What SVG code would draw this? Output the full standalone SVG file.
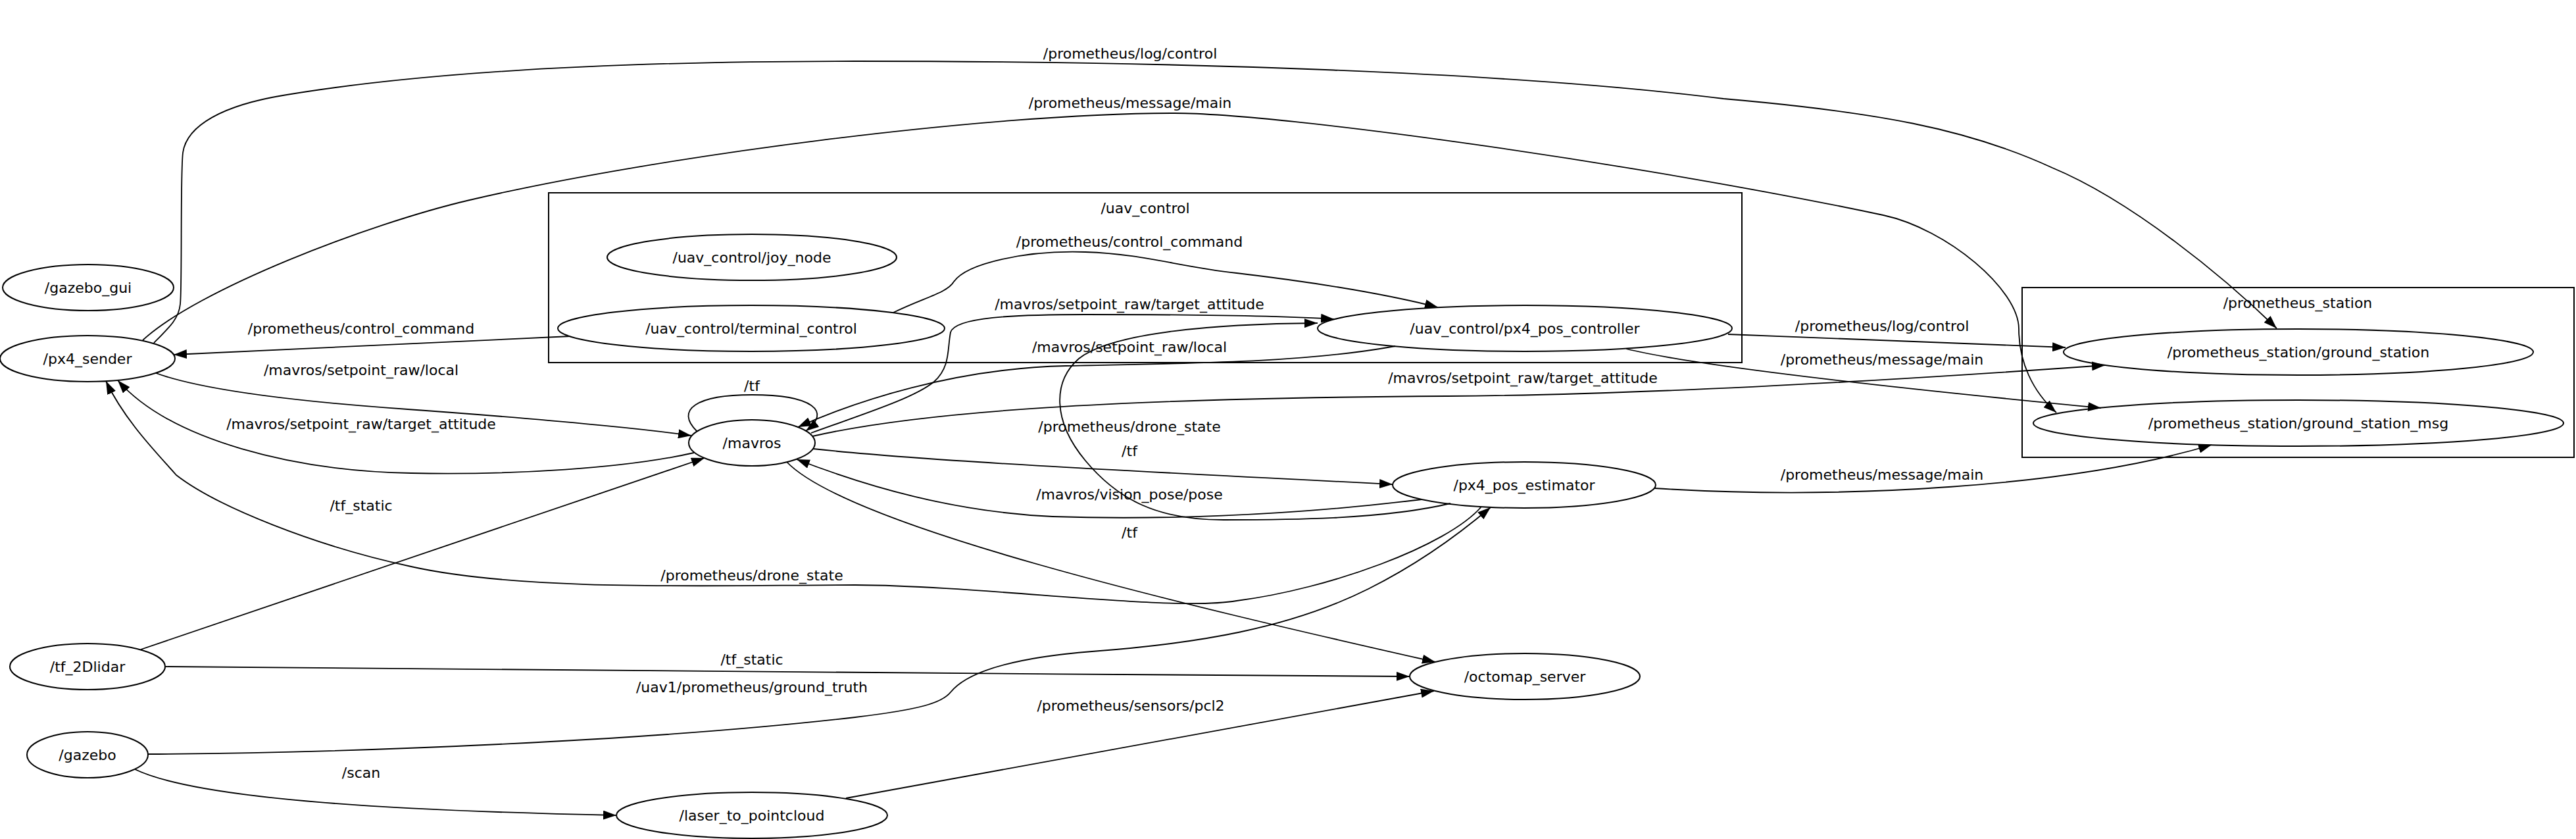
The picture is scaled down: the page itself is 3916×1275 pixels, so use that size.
<svg xmlns="http://www.w3.org/2000/svg" width="3916" height="1275" viewBox="0 0 3916 1275">
<style>
text { font-family: "DejaVu Sans", "Liberation Sans", sans-serif; font-size: 22px; text-anchor: middle; fill: #000; }
.node ellipse { fill: none; stroke: #000; stroke-width: 2; }
.cluster rect { fill: none; stroke: #000; stroke-width: 2; }
.edges path { fill: none; stroke: #000; stroke-width: 1.8; marker-end: url(#arrow); }
</style>
<defs>
<marker id="arrow" viewBox="0 0 20 14" refX="20" refY="7" markerWidth="20" markerHeight="14" markerUnits="userSpaceOnUse" orient="auto">
<path d="M0,0 L20,7 L0,14 z" fill="#000"/>
</marker>
</defs>
<rect x="0" y="0" width="3916" height="1275" fill="#fff"/>

<g id="cluster_uav_control" class="cluster">
<rect x="834" y="293" width="1814" height="258"/>
<text x="1741" y="324">/uav_control</text>
</g>
<g id="cluster_prometheus_station" class="cluster">
<rect x="3074" y="437" width="839" height="258"/>
<text x="3493" y="468">/prometheus_station</text>
</g>

<g id="edges" class="edges">
<!-- px4_sender -> ground_station : /prometheus/log/control -->
<path d="M234,521 C258,497 272,484 274,462 C277,430 274,265 278,232 C284,190 340,160 430,145 C650,108 950,93 1300,93 C1800,93 2300,110 2620,150 C2850,170 2990,195 3120,255 C3240,305 3380,420 3461,499"/>
<text x="1718" y="89">/prometheus/log/control</text>
<!-- px4_sender -> ground_station_msg : /prometheus/message/main -->
<path d="M217,517 C300,440 560,340 714,304 C1000,237 1500,172 1785,172 C1950,172 2500,250 2863,327 C2960,348 3069,440 3069,500 C3069,550 3090,595 3126,627"/>
<text x="1718" y="164">/prometheus/message/main</text>
<!-- terminal_control -> px4_sender : /prometheus/control_command -->
<path d="M867,511 L264,539"/>
<text x="549" y="507">/prometheus/control_command</text>
<!-- px4_sender -> mavros : /mavros/setpoint_raw/local -->
<path d="M237,567 C300,590 420,608 620,622 C800,635 950,648 1051,662"/>
<text x="549" y="570">/mavros/setpoint_raw/local</text>
<!-- mavros -> px4_sender : /mavros/setpoint_raw/target_attitude -->
<path d="M1055,688 C950,712 780,722 625,719 C450,716 260,670 179,578"/>
<text x="549" y="652">/mavros/setpoint_raw/target_attitude</text>
<!-- px4_pos_estimator -> px4_sender : /prometheus/drone_state -->
<path d="M2252,770 C2200,830 2020,895 1880,913 C1780,930 1500,890 1300,889 C1100,889 800,900 625,861 C480,830 330,770 268,722 C240,690 190,640 161,579"/>
<text x="1143" y="882">/prometheus/drone_state</text>
<!-- tf_2Dlidar -> mavros : /tf_static -->
<path d="M214,987 L1071,696"/>
<text x="549" y="776">/tf_static</text>
<!-- tf_2Dlidar -> octomap_server : /tf_static -->
<path d="M252,1013 C800,1018 1500,1024 2143,1028"/>
<text x="1143" y="1010">/tf_static</text>
<!-- gazebo -> px4_pos_estimator : /uav1/prometheus/ground_truth -->
<path d="M225,1146 C550,1144 1000,1125 1300,1090 C1400,1078 1432,1068 1445,1052 C1475,1015 1560,998 1660,990 C1820,978 1960,955 2080,895 C2160,855 2220,810 2266,771"/>
<text x="1143" y="1052">/uav1/prometheus/ground_truth</text>
<!-- gazebo -> laser_to_pointcloud : /scan -->
<path d="M205,1169 C300,1215 600,1232 937,1239"/>
<text x="549" y="1182">/scan</text>
<!-- laser_to_pointcloud -> octomap_server : /prometheus/sensors/pcl2 -->
<path d="M1286,1213 L2180,1050"/>
<text x="1719" y="1080">/prometheus/sensors/pcl2</text>
<!-- mavros -> mavros : /tf -->
<path d="M1060,656 C1025,622 1060,600 1143,600 C1235,600 1265,625 1225,655"/>
<text x="1143" y="594">/tf</text>
<!-- mavros -> px4_pos_estimator : /tf -->
<path d="M1236,682 C1400,700 1700,715 2117,736"/>
<text x="1717" y="693">/tf</text>
<!-- px4_pos_estimator -> mavros : /mavros/vision_pose/pose -->
<path d="M2161,759 C1950,785 1750,790 1600,785 C1450,778 1320,740 1211,698"/>
<text x="1717" y="759">/mavros/vision_pose/pose</text>
<!-- mavros -> octomap_server : /tf -->
<path d="M1196,702 C1290,800 1800,920 2182,1006"/>
<text x="1717" y="817">/tf</text>
<!-- px4_pos_estimator -> px4_pos_controller : /prometheus/drone_state -->
<path d="M2205,765 C2100,790 1950,790 1860,790 C1760,790 1700,760 1650,700 C1600,640 1600,580 1640,545 C1690,505 1850,492 2003,491"/>
<text x="1717" y="656">/prometheus/drone_state</text>
<!-- px4_pos_controller -> mavros : /mavros/setpoint_raw/local -->
<path d="M2121,526 C1980,552 1800,552 1620,556 C1450,560 1300,610 1213,649"/>
<text x="1717" y="535">/mavros/setpoint_raw/local</text>
<!-- mavros -> px4_pos_controller : /mavros/setpoint_raw/target_attitude -->
<path d="M1233,658 C1310,630 1390,605 1420,580 C1445,558 1440,530 1445,505 C1452,482 1540,478 1650,478 C1800,478 1950,480 2028,485"/>
<text x="1717" y="470">/mavros/setpoint_raw/target_attitude</text>
<!-- terminal_control -> px4_pos_controller : /prometheus/control_command -->
<path d="M1358,475 C1405,452 1440,445 1450,428 C1470,400 1560,380 1650,383 C1740,386 1790,405 1880,415 C1990,428 2100,445 2186,467"/>
<text x="1717" y="375">/prometheus/control_command</text>
<!-- mavros -> ground_station : /mavros/setpoint_raw/target_attitude -->
<path d="M1235,663 C1400,625 1700,605 2200,602 C2500,600 2850,580 3200,555"/>
<text x="2315" y="582">/mavros/setpoint_raw/target_attitude</text>
<!-- px4_pos_controller -> ground_station : /prometheus/log/control -->
<path d="M2627,508 L3140,528"/>
<text x="2861" y="503">/prometheus/log/control</text>
<!-- px4_pos_controller -> ground_station_msg : /prometheus/message/main -->
<path d="M2472,530 C2560,552 2800,582 3194,620"/>
<text x="2861" y="554">/prometheus/message/main</text>
<!-- px4_pos_estimator -> ground_station_msg : /prometheus/message/main -->
<path d="M2515,742 C2800,760 3150,740 3362,676"/>
<text x="2861" y="729">/prometheus/message/main</text>
</g>

<g id="node_gazebo_gui" class="node"><ellipse cx="134" cy="437" rx="130" ry="35"/><text x="134" y="445">/gazebo_gui</text></g>
<g id="node_px4_sender" class="node"><ellipse cx="133" cy="545" rx="133" ry="35"/><text x="133" y="553">/px4_sender</text></g>
<g id="node_tf_2Dlidar" class="node"><ellipse cx="133" cy="1013" rx="118" ry="35"/><text x="133" y="1021">/tf_2Dlidar</text></g>
<g id="node_gazebo" class="node"><ellipse cx="133" cy="1147" rx="92" ry="35"/><text x="133" y="1155">/gazebo</text></g>
<g id="node_laser_to_pointcloud" class="node"><ellipse cx="1143" cy="1239" rx="206" ry="35"/><text x="1143" y="1247">/laser_to_pointcloud</text></g>
<g id="node_joy_node" class="node"><ellipse cx="1143" cy="391" rx="220" ry="35"/><text x="1143" y="399">/uav_control/joy_node</text></g>
<g id="node_terminal_control" class="node"><ellipse cx="1142" cy="499" rx="294" ry="35"/><text x="1142" y="507">/uav_control/terminal_control</text></g>
<g id="node_mavros" class="node"><ellipse cx="1143" cy="673" rx="96" ry="35"/><text x="1143" y="681">/mavros</text></g>
<g id="node_px4_pos_controller" class="node"><ellipse cx="2318" cy="499" rx="315" ry="35"/><text x="2318" y="507">/uav_control/px4_pos_controller</text></g>
<g id="node_px4_pos_estimator" class="node"><ellipse cx="2317" cy="737" rx="200" ry="35"/><text x="2317" y="745">/px4_pos_estimator</text></g>
<g id="node_octomap_server" class="node"><ellipse cx="2318" cy="1028" rx="175" ry="35"/><text x="2318" y="1036">/octomap_server</text></g>
<g id="node_ground_station" class="node"><ellipse cx="3494" cy="535" rx="357" ry="35"/><text x="3494" y="543">/prometheus_station/ground_station</text></g>
<g id="node_ground_station_msg" class="node"><ellipse cx="3494" cy="643" rx="403" ry="35"/><text x="3494" y="651">/prometheus_station/ground_station_msg</text></g>
</svg>
